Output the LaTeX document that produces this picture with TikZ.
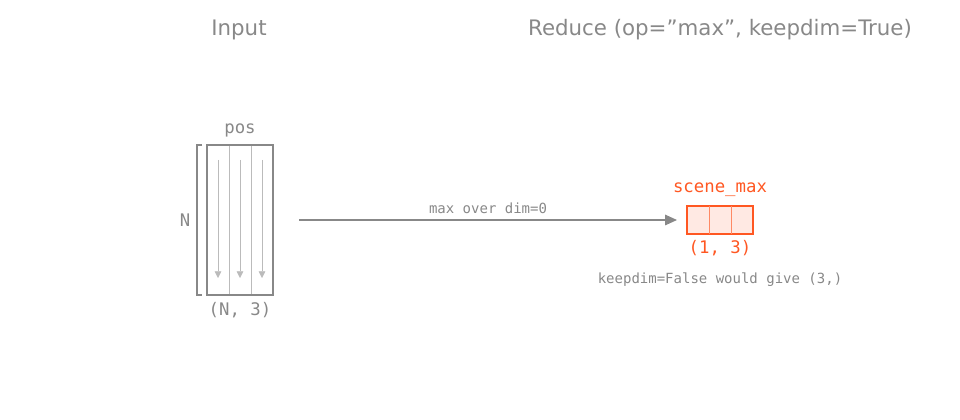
\documentclass[tikz,border=0pt]{standalone}
\usepackage{fontspec}
\setmainfont{DejaVu Sans}
\setmonofont{DejaVu Sans Mono}
\usetikzlibrary{arrows.meta}
\definecolor{txtgray}{HTML}{888888}
\definecolor{linegray}{HTML}{BBBBBB}
\definecolor{hot}{HTML}{FF5722}
\definecolor{hotfill}{HTML}{FFE9E3}
\tikzset{title/.style={text=txtgray,font=\fontsize{16}{18}\selectfont},
         mono/.style={text=txtgray,font=\ttfamily\fontsize{13}{15}\selectfont},
         small/.style={text=txtgray,font=\ttfamily\fontsize{10.5}{12}\selectfont},
         colarrow/.style={linegray,-{Triangle[length=5pt,width=5pt]}}}
\begin{document}
\begin{tikzpicture}[x=0.75pt,y=-0.75pt]
\useasboundingbox (0,0) rectangle (960,420);
\node[title] (intitle) at (239,30) {Input};
\node[title] (redtitle) at (720,30) {Reduce (op="max", keepdim=True)};
% input tensor
\node[mono] (poslabel) at (240,130) {pos};
\draw[linegray] (229,145) -- (229,295) (251,145) -- (251,295);
\foreach \cx in {218,240,262}
  \draw[colarrow] (\cx,160) -- (\cx,278);
\draw[txtgray,thick] (207,145) rectangle (273,295);
\draw[txtgray,thick] (202,145) -- (197,145) -- (197,295) -- (202,295);
\node[mono] (nlabel) at (185,220) {N};
\node[mono] (posshape) at (240,310) {(N, 3)};
% reduction
\coordinate (src) at (299,220);
\coordinate (dst) at (677,220);
\draw[txtgray,thick,-{Triangle[length=9pt,width=8pt]}] (src) -- node[small,above=1pt] {max over dim=0} (dst);
% output tensor
\draw[hot,thick,fill=hotfill] (687,206) rectangle (753,234);
\draw[hot!70] (709,206) -- (709,234) (731,206) -- (731,234);
\node[mono,text=hot] (outlabel) at (720,190) {scene\_max};
\node[mono,text=hot] (outshape) at (720,248) {(1, 3)};
\node[small] (note) at (720,280) {keepdim=False would give (3,)};
\end{tikzpicture}
\end{document}
